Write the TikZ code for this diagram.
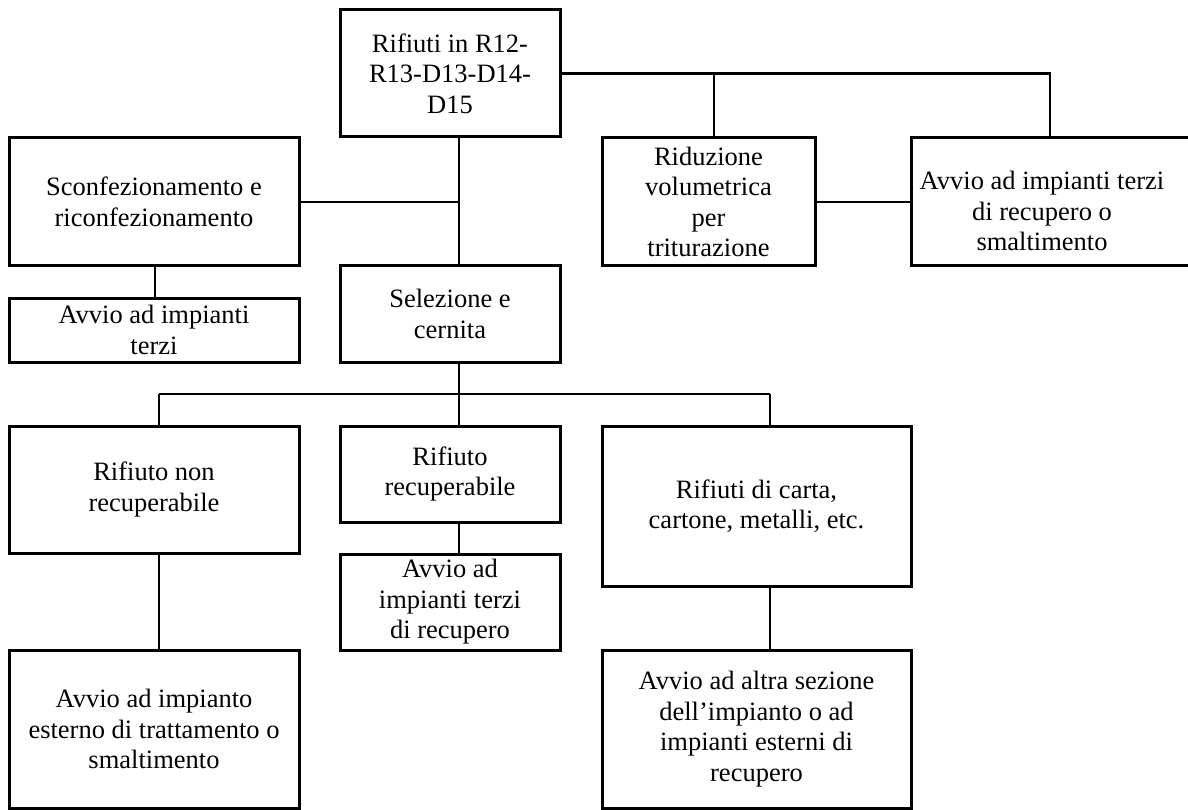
\documentclass[tikz,border=0pt]{standalone}
\usepackage{fontspec}
\setmainfont[Ligatures=NoCommon]{Liberation Serif}
\begin{document}
\begin{tikzpicture}[x=1pt,y=-1pt,
  box/.style={draw=black, line width=3pt, rectangle, align=center, inner sep=0pt,
    font=\fontsize{26.5pt}{30.5pt}\selectfont},
  link/.style={draw=black, line width=2.8pt}]
\useasboundingbox (0,0) rectangle (1188,810);
% boxes
\node[box, minimum width=220pt, minimum height=127pt] (top) at (450,73.5) {Rifiuti in R12-\\R13-D13-D14-\\D15};
\node[box, minimum width=290pt, minimum height=128pt] (scf) at (154,202) {Sconfezionamento e\\riconfezionamento};
\node[box, minimum width=213pt, minimum height=128pt] (rid) at (708.5,202) {Riduzione\\volumetrica\\per\\triturazione};
\node[box, minimum width=278pt, minimum height=128pt] (avr) at (1050,202) {};
\node[align=center, inner sep=0pt, font=\fontsize{26.5pt}{30.5pt}\selectfont] (avrt) at (1042,211) {Avvio ad impianti terzi\\di recupero o\\smaltimento};
\node[box, minimum width=290pt, minimum height=64pt] (avl) at (154,330) {Avvio ad impianti\\terzi};
\node[box, minimum width=220pt, minimum height=96pt] (sel) at (450,314) {Selezione e\\cernita};
\node[box, minimum width=290pt, minimum height=127pt] (rnr) at (154,489.5) {Rifiuto non\\recuperabile};
\node[box, minimum width=220pt, minimum height=96pt] (rr) at (450,474) {Rifiuto\\recuperabile};
\node[box, minimum width=309pt, minimum height=160pt] (rc) at (756.5,506) {Rifiuti di carta,\\cartone, metalli, etc.};
\node[box, minimum width=220pt, minimum height=96pt] (avm) at (450,602) {Avvio ad\\impianti terzi\\di recupero};
\node[box, minimum width=290pt, minimum height=158pt] (ave) at (154,729) {Avvio ad impianto\\esterno di trattamento o\\smaltimento};
\node[box, minimum width=309pt, minimum height=158pt] (ava) at (756.5,729) {Avvio ad altra sezione\\dell’impianto o ad\\impianti esterni di\\recupero};
% helper coordinates
\coordinate (mxt) at ([xshift=9pt]top.south);
\coordinate (mxs) at ([xshift=9pt]sel.north);
\coordinate (ridn) at ([xshift=5.5pt]rid.north);
\coordinate (bus) at (459,394);
\coordinate (bl) at ([xshift=5pt]rnr.north);
\coordinate (bm) at ([xshift=9pt]rr.north);
\coordinate (br) at ([xshift=13.5pt]rc.north);
% connectors
\draw[link] (top.east) -- (top.east -| avr.north) -- (avr.north);
\draw[link] (ridn) -- (ridn |- top.east);
\draw[link] (mxt) -- (mxs);
\draw[link] (scf.east) -- (scf.east -| mxt);
\draw[link] (rid.east) -- (avr.west);
\draw[link] ([xshift=1pt]scf.south) -- ([xshift=1pt]avl.north);
\draw[link] ([xshift=9pt]sel.south) -- (bus);
\draw[link] (bus -| bl) -- (bus -| br);
\draw[link] (bl) -- (bl |- bus);
\draw[link] (bm) -- (bm |- bus);
\draw[link] (br) -- (br |- bus);
\draw[link] ([xshift=9pt]rr.south) -- ([xshift=9pt]avm.north);
\draw[link] ([xshift=5pt]rnr.south) -- ([xshift=5pt]ave.north);
\draw[link] ([xshift=13.5pt]rc.south) -- ([xshift=13.5pt]ava.north);
\end{tikzpicture}
\end{document}
